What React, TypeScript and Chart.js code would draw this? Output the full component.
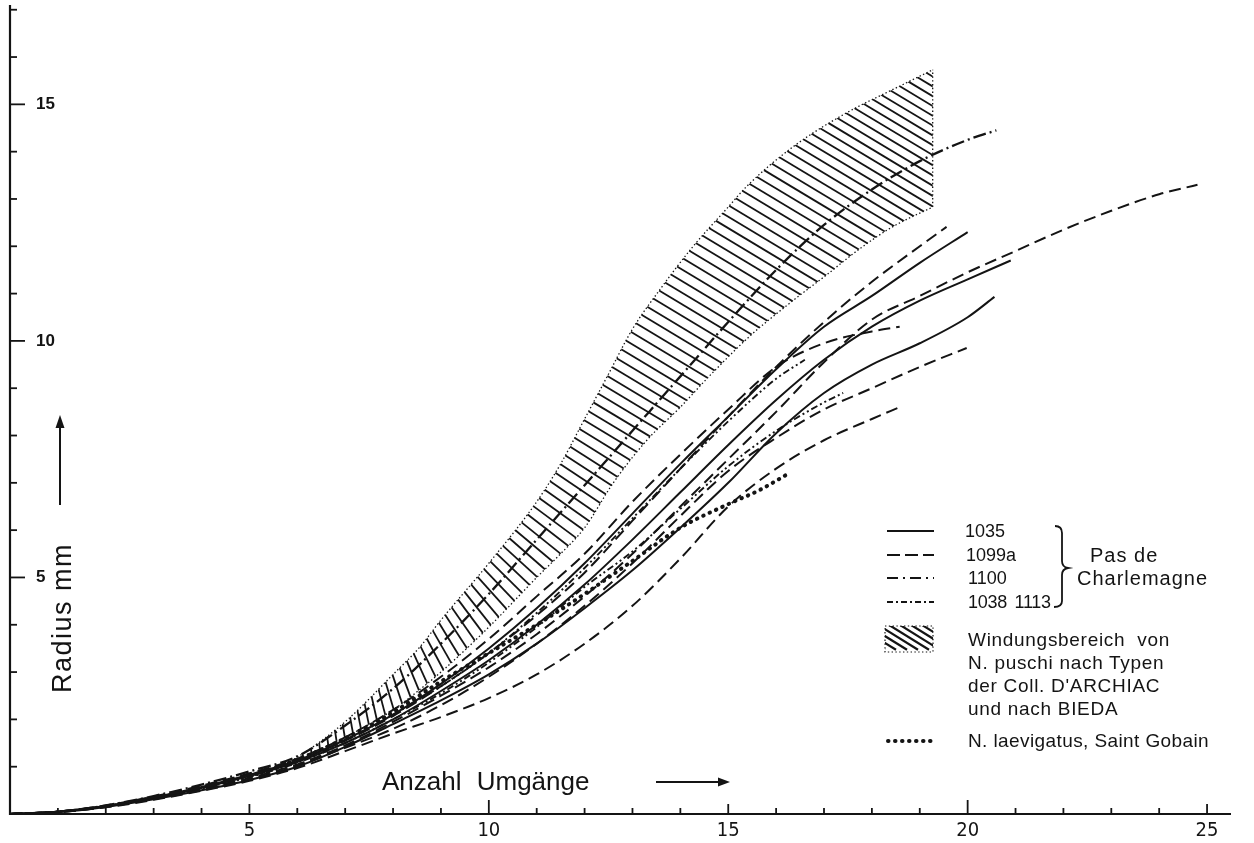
import { useEffect, useRef } from 'react';
import { Chart, registerables } from 'chart.js';

Chart.register(...registerables);

type Pt = [number, number];

// ---- axis ticks ----
const X_TICK_LABELS = [5, 10, 15, 20, 25];
const Y_TICK_LABELS = [5, 10, 15];
const X_MINOR_TICKS = [1, 2, 3, 4, 5, 6, 7, 8, 9, 10, 11, 12, 13, 14, 15, 16, 17, 18, 19, 20, 21, 22, 23, 24, 25];
const Y_MINOR_TICKS = [1, 2, 3, 4, 5, 6, 7, 8, 9, 10, 11, 12, 13, 14, 15, 16, 17];
const X_MAX = 25.5;
const Y_MAX = 17.1;

// ---- N. puschi band (Windungsbereich) ----
const BAND_UPPER: Pt[] = [
  [5.5, 0.95], [6, 1.2], [7, 1.95], [8, 2.95], [8.56, 3.53], [9, 4.1], [10, 5.3], [11, 6.6], [11.5, 7.4],
  [12, 8.35], [12.5, 9.3], [13, 10.25], [13.57, 11.08], [14.26, 11.99], [15, 12.83], [15.38, 13.26],
  [16.35, 14.1], [17.47, 14.82], [18.43, 15.31], [19.27, 15.73],
];
const BAND_LOWER: Pt[] = [
  [5.5, 0.95], [6, 1.1], [7, 1.62], [8, 2.2], [8.62, 2.68], [9, 3.0], [10, 3.95], [11, 5.0], [11.5, 5.5],
  [12, 6.05], [12.6, 7.0], [13.3, 7.9], [14, 8.6], [14.6, 9.25], [15.45, 10.1], [16.35, 10.85],
  [17.06, 11.4], [17.75, 11.95], [18.43, 12.41], [19.27, 12.83],
];
const BAND_EDGE: Pt[] = [[19.27, 12.83], [19.27, 15.73]];

// ---- 1035 (solid) ----
const S1035_A: Pt[] = [
  [0, 0], [1, 0.05], [2, 0.17], [3, 0.35], [4, 0.57], [5, 0.83], [6, 1.13], [7, 1.57], [8, 2.1], [9, 2.75],
  [10, 3.5], [11, 4.35], [12, 5.3], [13, 6.35], [14, 7.4], [15, 8.4], [16, 9.4], [17, 10.3], [18, 10.95],
  [19, 11.65], [20, 12.3],
];
const S1035_B: Pt[] = [
  [0, 0], [1, 0.04], [2, 0.15], [3, 0.31], [4, 0.5], [5, 0.72], [6, 1.0], [7, 1.42], [8, 1.9], [9, 2.4],
  [10, 2.95], [11, 3.6], [12, 4.35], [13, 5.15], [14, 6.05], [15, 7.0], [16, 8.05], [17, 8.9], [18, 9.5],
  [19, 9.95], [20, 10.5], [20.56, 10.93],
];
const S1035_C: Pt[] = [
  [0, 0], [1, 0.05], [2, 0.17], [3, 0.34], [4, 0.55], [5, 0.8], [6, 1.1], [7, 1.5], [8, 2.0], [9, 2.6],
  [10, 3.25], [11, 4.0], [12, 4.85], [13, 5.8], [14, 6.8], [15, 7.8], [16, 8.75], [17, 9.6], [18, 10.3],
  [19, 10.85], [20, 11.3], [20.9, 11.7],
];

// ---- 1099a (dashed) ----
const D1099_A: Pt[] = [
  [0, 0], [1, 0.05], [2, 0.16], [3, 0.33], [4, 0.53], [5, 0.76], [6, 1.05], [7, 1.45], [8, 1.95], [9, 2.5],
  [10, 3.1], [11, 3.8], [12, 4.6], [13, 5.5], [14, 6.5], [15, 7.5], [16, 8.5], [17, 9.55], [18, 10.45],
  [19, 10.95], [20, 11.45], [21, 11.9], [22, 12.35], [23, 12.75], [24, 13.1], [24.8, 13.3],
];
const D1099_B: Pt[] = [
  [0, 0], [1, 0.04], [2, 0.15], [3, 0.32], [4, 0.51], [5, 0.73], [6, 1.02], [7, 1.4], [8, 1.8], [9, 2.3],
  [10, 2.9], [11, 3.6], [12, 4.4], [13, 5.3], [14, 6.3], [15, 7.25], [16, 7.95], [17, 8.55], [18, 9.0],
  [19, 9.45], [19.98, 9.85],
];
const D1099_C: Pt[] = [
  [0, 0], [1, 0.04], [2, 0.14], [3, 0.3], [4, 0.49], [5, 0.7], [6, 0.97], [7, 1.33], [8, 1.7], [9, 2.05],
  [10, 2.45], [11, 2.95], [12, 3.6], [13, 4.4], [14, 5.4], [15, 6.5], [16, 7.3], [17, 7.9], [18, 8.35],
  [18.58, 8.6],
];
const D1099_D: Pt[] = [
  [0, 0], [1, 0.05], [2, 0.18], [3, 0.37], [4, 0.6], [5, 0.86], [6, 1.17], [7, 1.62], [8, 2.2], [9, 2.9],
  [10, 3.7], [11, 4.6], [12, 5.5], [13, 6.6], [14, 7.6], [15, 8.55], [16, 9.45], [17, 9.95], [18, 10.2],
  [18.58, 10.3],
];
const D1099_E: Pt[] = [
  [0, 0], [1, 0.05], [2, 0.17], [3, 0.36], [4, 0.58], [5, 0.84], [6, 1.14], [7, 1.55], [8, 2.07], [9, 2.7],
  [10, 3.4], [11, 4.2], [12, 5.1], [13, 6.2], [14, 7.3], [15, 8.4], [16, 9.45], [17, 10.4], [18, 11.25],
  [19, 12.0], [19.56, 12.41],
];

// ---- 1100 (dash-dot) ----
const DD1100: Pt[] = [
  [0, 0], [1, 0.05], [2, 0.18], [3, 0.38], [4, 0.62], [5, 0.9], [6, 1.22], [7, 1.87], [8, 2.65], [9, 3.6],
  [10, 4.65], [11, 5.8], [12, 6.95], [13, 8.1], [14, 9.25], [15, 10.4], [16, 11.5], [17, 12.45], [18, 13.2],
  [19, 13.8], [20, 14.25], [20.6, 14.45],
];

// ---- 1038, 1113 (dash-dot-dot) ----
const DDD1038: Pt[] = [
  [0, 0], [1, 0.05], [2, 0.16], [3, 0.34], [4, 0.54], [5, 0.78], [6, 1.08], [7, 1.5], [8, 2.0], [9, 2.55],
  [10, 3.2], [11, 3.95], [12, 4.8], [13, 5.55], [14, 6.45], [15, 7.35], [16, 8.1], [17, 8.7], [17.4, 8.9],
];
const DDD1113: Pt[] = [
  [0, 0], [1, 0.05], [2, 0.17], [3, 0.35], [4, 0.56], [5, 0.81], [6, 1.11], [7, 1.55], [8, 2.1], [9, 2.7],
  [10, 3.4], [11, 4.25], [12, 5.2], [13, 6.25], [14, 7.3], [15, 8.3], [16, 9.2], [16.6, 9.6],
];

// ---- N. laevigatus, Saint Gobain (dotted) ----
const LAEVIGATUS: Pt[] = [
  [5, 0.8], [6, 1.15], [7, 1.6], [8, 2.15], [9, 2.8], [10, 3.4], [11, 4.0], [12, 4.65], [13, 5.35],
  [14, 6.05], [15, 6.55], [15.66, 6.85], [16.3, 7.22],
];

// hatch direction (degrees below horizontal) along the band
const HATCH_X = [6, 7.5, 9, 10, 11, 12, 20];
const HATCH_DEG = [85, 78, 58, 45, 36, 31, 31];

const INK = '#141414';
const SOLID: number[] = [];
const DASH = [12, 6];
const DASH_DOT = [13, 4, 2, 4];
const DASH_DOT_DOT = [7, 3, 2, 3, 2, 3];
const DOTS = [0.5, 6.5];
const FINE_DOTS = [1.4, 2.4];

const interp = (xs: number[], ys: number[], x: number) => {
  if (x <= xs[0]) return ys[0];
  for (let i = 1; i < xs.length; i++) {
    if (x <= xs[i]) {
      const t = (x - xs[i - 1]) / (xs[i] - xs[i - 1]);
      return ys[i - 1] + t * (ys[i] - ys[i - 1]);
    }
  }
  return ys[ys.length - 1];
};

function densePath(meta: any) {
  const pts = meta.data as any[];
  const out: { x: number; y: number }[] = [];
  if (!pts.length) return out;
  out.push({ x: pts[0].x, y: pts[0].y });
  for (let i = 1; i < pts.length; i++) {
    const p0 = pts[i - 1];
    const p1 = pts[i];
    const c1x = p0.cp2x ?? p0.x, c1y = p0.cp2y ?? p0.y;
    const c2x = p1.cp1x ?? p1.x, c2y = p1.cp1y ?? p1.y;
    for (let k = 1; k <= 20; k++) {
      const t = k / 20, u = 1 - t;
      out.push({
        x: u * u * u * p0.x + 3 * u * u * t * c1x + 3 * u * t * t * c2x + t * t * t * p1.x,
        y: u * u * u * p0.y + 3 * u * u * t * c1y + 3 * u * t * t * c2y + t * t * t * p1.y,
      });
    }
  }
  return out;
}

const bandPlugin = {
  id: 'bandHatch',
  beforeDatasetsDraw(chart: any) {
    const ctx = chart.ctx as CanvasRenderingContext2D;
    const up = chart.getDatasetMeta(0);
    const lo = chart.getDatasetMeta(1);
    if (up.dataset?.updateControlPoints) up.dataset.updateControlPoints(chart.chartArea, 'x');
    if (lo.dataset?.updateControlPoints) lo.dataset.updateControlPoints(chart.chartArea, 'x');
    const U = densePath(up);
    const L = densePath(lo);
    if (!U.length || !L.length) return;
    ctx.save();
    ctx.beginPath();
    U.forEach((p, i) => (i ? ctx.lineTo(p.x, p.y) : ctx.moveTo(p.x, p.y)));
    for (let i = L.length - 1; i >= 0; i--) ctx.lineTo(L[i].x, L[i].y);
    ctx.closePath();
    ctx.clip();
    ctx.strokeStyle = INK;
    ctx.lineWidth = 1.8;
    ctx.setLineDash([]);
    const xs = chart.scales.x;
    let acc = 0;
    let next = 3;
    const spacing = 10;
    for (let i = 1; i < U.length; i++) {
      const a = U[i - 1], b = U[i];
      const seg = Math.hypot(b.x - a.x, b.y - a.y);
      while (acc + seg >= next) {
        const t = (next - acc) / seg;
        const px = a.x + t * (b.x - a.x);
        const py = a.y + t * (b.y - a.y);
        const deg = interp(HATCH_X, HATCH_DEG, xs.getValueForPixel(px));
        const r = (deg * Math.PI) / 180;
        const dx = Math.cos(r), dy = Math.sin(r);
        ctx.beginPath();
        ctx.moveTo(px - dx * 4, py - dy * 4);
        ctx.lineTo(px + dx * 320, py + dy * 320);
        ctx.stroke();
        next += spacing;
      }
      acc += seg;
    }
    ctx.restore();
  },
};

function line(ctx: CanvasRenderingContext2D, x1: number, y1: number, x2: number, y2: number) {
  ctx.beginPath();
  ctx.moveTo(x1, y1);
  ctx.lineTo(x2, y2);
  ctx.stroke();
}

const decorPlugin = {
  id: 'decor',
  afterDraw(chart: any) {
    const ctx = chart.ctx as CanvasRenderingContext2D;
    const xs = chart.scales.x;
    const ys = chart.scales.y;
    const x0 = xs.getPixelForValue(0);
    const y0 = ys.getPixelForValue(0);
    ctx.save();
    ctx.strokeStyle = INK;
    ctx.fillStyle = INK;
    ctx.lineCap = 'butt';
    ctx.setLineDash([]);
    // axes
    ctx.lineWidth = 2.2;
    line(ctx, x0, y0, xs.getPixelForValue(X_MAX), y0);
    line(ctx, x0, y0 + 1, x0, ys.getPixelForValue(Y_MAX));
    ctx.lineWidth = 1.8;
    X_MINOR_TICKS.forEach((v) => {
      const len = v % 10 === 0 ? 14 : v % 5 === 0 ? 10 : 6;
      const px = xs.getPixelForValue(v);
      line(ctx, px, y0, px, y0 - len);
    });
    Y_MINOR_TICKS.forEach((v) => {
      const len = v % 5 === 0 ? 15 : 7;
      const py = ys.getPixelForValue(v);
      line(ctx, x0, py, x0 + len, py);
    });

    // arrows
    ctx.lineWidth = 2;
    line(ctx, 656, 782, 720, 782);
    ctx.beginPath();
    ctx.moveTo(730, 782);
    ctx.lineTo(718, 777.5);
    ctx.lineTo(718, 786.5);
    ctx.closePath();
    ctx.fill();
    line(ctx, 60, 505, 60, 426);
    ctx.beginPath();
    ctx.moveTo(60, 415);
    ctx.lineTo(55.5, 428);
    ctx.lineTo(64.5, 428);
    ctx.closePath();
    ctx.fill();

    // legend samples
    const lx1 = 887, lx2 = 934;
    ctx.lineWidth = 1.8;
    ctx.setLineDash(SOLID);
    line(ctx, lx1, 531, lx2, 531);
    ctx.setLineDash([13, 5]);
    line(ctx, lx1, 555, lx2, 555);
    ctx.setLineDash([11, 5, 2, 5]);
    line(ctx, lx1, 578, lx2, 578);
    ctx.setLineDash([6, 3, 2, 3]);
    line(ctx, lx1, 602, lx2, 602);

    // brace
    ctx.setLineDash([]);
    ctx.lineWidth = 1.8;
    ctx.beginPath();
    ctx.moveTo(1055, 526);
    ctx.quadraticCurveTo(1062, 526, 1062, 533);
    ctx.lineTo(1062, 561);
    ctx.quadraticCurveTo(1062, 567, 1068, 568);
    ctx.quadraticCurveTo(1062, 569, 1062, 575);
    ctx.lineTo(1062, 601);
    ctx.quadraticCurveTo(1062, 607, 1054, 607);
    ctx.stroke();

    // hatched sample box
    ctx.save();
    ctx.lineWidth = 1.2;
    ctx.setLineDash(FINE_DOTS);
    ctx.strokeRect(885, 626, 48, 26);
    ctx.beginPath();
    ctx.rect(885, 626, 48, 26);
    ctx.clip();
    ctx.setLineDash([]);
    ctx.lineWidth = 2.2;
    for (let k = -3; k < 8; k++) {
      const sx = 870 + k * 11;
      line(ctx, sx, 620, sx + 48, 620 + 48 * 0.62);
    }
    ctx.restore();

    // dotted sample
    ctx.lineWidth = 4;
    ctx.lineCap = 'round';
    ctx.setLineDash(DOTS);
    line(ctx, 888, 741, 933, 741);
    ctx.restore();
  },
};

function ds(data: Pt[], dash: number[], width = 1.8, extra: any = {}) {
  return {
    data: data.map(([x, y]) => ({ x, y })),
    borderColor: INK,
    borderWidth: width,
    borderDash: dash,
    pointRadius: 0,
    fill: false,
    cubicInterpolationMode: 'monotone',
    ...extra,
  };
}

const FONT = "'Liberation Sans', Arial, sans-serif";

function Label(props: { x: number; y: number; text: string; size?: number; spacing?: number; wordSpacing?: number }) {
  const { x, y, text, size = 19, spacing = 0.5, wordSpacing = 0 } = props;
  return (
    <div
      style={{
        position: 'absolute',
        left: x,
        top: y - 10,
        height: 20,
        lineHeight: '20px',
        fontFamily: FONT,
        fontSize: size,
        letterSpacing: spacing,
        wordSpacing,
        whiteSpace: 'pre',
        color: INK,
      }}
    >
      {text}
    </div>
  );
}

export default function App() {
  const ref = useRef<HTMLCanvasElement | null>(null);
  useEffect(() => {
    if (!ref.current) return;
    const chart = new Chart(ref.current, {
      type: 'line',
      data: {
        datasets: [
          ds(BAND_UPPER, FINE_DOTS, 1.3),
          ds(BAND_LOWER, FINE_DOTS, 1.3),
          ds(BAND_EDGE, FINE_DOTS, 1.3, { cubicInterpolationMode: 'default', tension: 0 }),
          ds(S1035_A, SOLID, 2),
          ds(S1035_B, SOLID, 2),
          ds(S1035_C, SOLID, 2),
          ds(D1099_A, DASH, 2),
          ds(D1099_B, DASH, 2),
          ds(D1099_C, DASH, 2),
          ds(D1099_D, DASH, 2),
          ds(D1099_E, DASH, 2),
          ds(DDD1038, DASH_DOT_DOT, 1.9),
          ds(DDD1113, DASH_DOT_DOT, 1.9),
          ds(DD1100, DASH_DOT, 2.3),
          ds(LAEVIGATUS, DOTS, 4, { borderCapStyle: 'round' }),
        ] as any,
      },
      options: {
        animation: false,
        responsive: false,
        events: [],
        layout: { padding: { left: 10, top: 5, right: 23, bottom: 0 } },
        plugins: { legend: { display: false }, tooltip: { enabled: false }, title: { display: false } },
        elements: { point: { radius: 0 } },
        scales: {
          x: {
            type: 'linear',
            min: 0,
            max: X_MAX,
            grid: { display: false, drawTicks: false },
            border: { display: false },
            ticks: {
              color: INK,
              padding: 5,
              maxRotation: 0,
              font: { family: "'Liberation Sans Narrow', 'DejaVu Sans Condensed', 'Liberation Sans', sans-serif", size: 20 },
            },
            afterBuildTicks: (s: any) => {
              s.ticks = X_TICK_LABELS.map((v) => ({ value: v }));
            },
            afterFit: (s: any) => {
              s.height = 29;
              s.paddingLeft = 0;
              s.paddingRight = 0;
              s.paddingTop = 0;
              s.paddingBottom = 0;
            },
          },
          y: {
            type: 'linear',
            min: 0,
            max: Y_MAX,
            grid: { display: false, drawTicks: false },
            border: { display: false },
            ticks: {
              color: INK,
              mirror: true,
              padding: 26,
              font: { family: FONT, size: 17, weight: 'bold' },
            },
            afterBuildTicks: (s: any) => {
              s.ticks = Y_TICK_LABELS.map((v) => ({ value: v }));
            },
            afterFit: (s: any) => {
              s.width = 0;
              s.paddingLeft = 0;
              s.paddingRight = 0;
              s.paddingTop = 0;
              s.paddingBottom = 0;
            },
          },
        },
      } as any,
      plugins: [bandPlugin, decorPlugin],
    });
    return () => chart.destroy();
  }, []);

  return (
    <div style={{ position: 'absolute', left: 0, top: 0, width: 1254, height: 843, background: '#fff', overflow: 'hidden' }}>
      <canvas ref={ref} width={1254} height={843} style={{ display: 'block' }} />
      <Label x={965} y={531} text="1035" size={18} spacing={0} />
      <Label x={966} y={555} text="1099a" size={18} spacing={0} />
      <Label x={968} y={578} text="1100" size={18} spacing={0} />
      <Label x={968} y={602} text="1038 1113" size={18} spacing={-0.3} wordSpacing={3} />
      <Label x={1090} y={555} text="Pas de" spacing={1} size={20} />
      <Label x={1077} y={578} text="Charlemagne" spacing={1} size={20} />
      <Label x={968} y={640} text="Windungsbereich  von" size={19} spacing={0.7} />
      <Label x={968} y={663} text="N. puschi nach Typen" size={19} spacing={0.7} />
      <Label x={968} y={686} text="der Coll. D'ARCHIAC" size={19} spacing={0.7} />
      <Label x={968} y={709} text="und nach BIEDA" size={19} spacing={0.7} />
      <Label x={968} y={741} text="N. laevigatus, Saint Gobain" size={19} spacing={0.4} />
      <div
        style={{
          position: 'absolute',
          left: 382,
          top: 766,
          lineHeight: '30px',
          fontFamily: FONT,
          fontSize: 26,
          letterSpacing: 0,
          wordSpacing: 8,
          whiteSpace: 'pre',
          color: INK,
        }}
      >
        {'Anzahl Umgänge'}
      </div>
      <div
        style={{
          position: 'absolute',
          left: -38,
          top: 603,
          width: 200,
          height: 30,
          lineHeight: '30px',
          textAlign: 'center',
          fontFamily: FONT,
          fontSize: 27,
          letterSpacing: 1.5,
          whiteSpace: 'pre',
          color: INK,
          transform: 'rotate(-90deg)',
          transformOrigin: '100px 15px',
        }}
      >
        {'Radius mm'}
      </div>
    </div>
  );
}
